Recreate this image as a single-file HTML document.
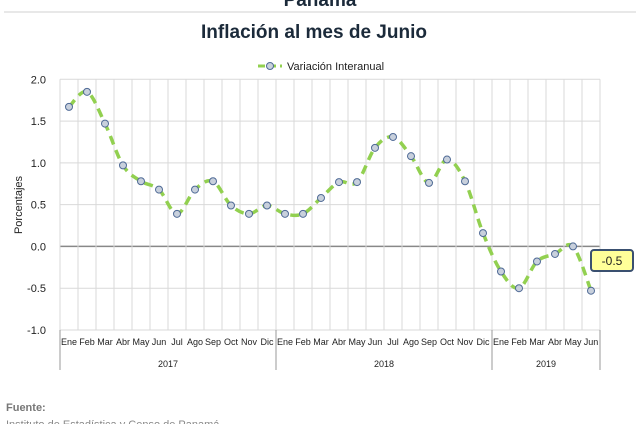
<!DOCTYPE html>
<html><head><meta charset="utf-8"><style>
body{margin:0;background:#fff;width:640px;height:424px;overflow:hidden;font-family:"Liberation Sans",sans-serif}
svg{display:block}
</style></head><body>
<svg width="640" height="424">
<text x="320" y="6" text-anchor="middle" font-size="19" font-weight="bold" fill="#1b2a3a">Panamá</text>
<line x1="4" y1="12" x2="636" y2="12" stroke="#d0d0d0"/>
<text x="314" y="38" text-anchor="middle" font-size="19" font-weight="bold" fill="#1b2a3a">Inflación al mes de Junio</text>
<g>
<line x1="258" y1="66" x2="282" y2="66" stroke="#92d050" stroke-width="3" stroke-dasharray="7,4"/>
<circle cx="270" cy="66" r="3.5" fill="#c8d0dc" stroke="#4f6a96" stroke-width="1"/>
<text x="287" y="70" font-size="11" fill="#222">Variación Interanual</text>
</g>
<g id="grid"></g><g id="axes"></g><g id="series"></g>
<text transform="translate(22,205) rotate(-90)" text-anchor="middle" font-size="11" fill="#222">Porcentajes</text>
<g>
<rect x="591" y="250" width="42" height="21" rx="3" fill="#ffff99" stroke="#3a5070" stroke-width="2"/>
<text x="612" y="265" text-anchor="middle" font-size="12" fill="#222">-0.5</text>
</g>
<text x="6" y="411" font-size="11" font-weight="bold" fill="#777">Fuente:</text>
<text x="6" y="428" font-size="11" fill="#888">Instituto de Estadística y Censo de Panamá</text>
</svg>
<script>
const months=["Ene","Feb","Mar","Abr","May","Jun","Jul","Ago","Sep","Oct","Nov","Dic","Ene","Feb","Mar","Abr","May","Jun","Jul","Ago","Sep","Oct","Nov","Dic","Ene","Feb","Mar","Abr","May","Jun"];
const years=["2017","2018","2019"];
const yearCounts=[12,12,6];
const values=[1.67,1.85,1.47,0.97,0.78,0.68,0.39,0.68,0.78,0.49,0.39,0.49,0.39,0.39,0.58,0.77,0.77,1.18,1.31,1.08,0.76,1.04,0.78,0.16,-0.30,-0.50,-0.18,-0.09,0.00,-0.53];
const yTicks=[2.0,1.5,1.0,0.5,0.0,-0.5,-1.0];
const NS="http://www.w3.org/2000/svg";
const L=60,R=600,T=79.3,B=330,ymin=-1,ymax=2;
const bw=(R-L)/months.length;
const xs=i=>L+bw*(i+0.5);
const ys=v=>B-(v-ymin)/(ymax-ymin)*(B-T);
function mk(p,tag,a){const e=document.createElementNS(NS,tag);for(const k in a)e.setAttribute(k,a[k]);p.appendChild(e);return e;}
const grid=document.getElementById('grid'),axes=document.getElementById('axes'),ser=document.getElementById('series');
yTicks.forEach(t=>{
 const l=mk(grid,'line',{x1:L,x2:R,y1:ys(t),y2:ys(t),stroke:t===0?'#888':'#d9d9d9','stroke-width':t===0?1.5:1});
 
 
 const tx=mk(axes,'text',{x:L-14,y:ys(t)+4,'text-anchor':'end','font-size':11,fill:'#222'});
 tx.textContent=t.toFixed(1);
 
 
});
for(let i=0;i<=months.length;i++){
 const l=mk(grid,'line',{x1:L+bw*i,x2:L+bw*i,y1:T,y2:B,stroke:'#d9d9d9'});
 
 
}
months.forEach((m,i)=>{
 const tx=mk(axes,'text',{x:xs(i),y:B+15,'text-anchor':'middle','font-size':9,fill:'#222'});
 tx.textContent=m;
 
 
});
let acc=0;
mk(axes,'line',{x1:L,x2:L,y1:B,y2:B+40,stroke:'#999'});
years.forEach((y,k)=>{
 const x0=L+bw*acc;acc+=yearCounts[k];const x1=L+bw*acc;
 const l=mk(axes,'line',{x1:x1,x2:x1,y1:B,y2:B+40,stroke:'#999'});
 
 
 const tx=mk(axes,'text',{x:(x0+x1)/2,y:B+37,'text-anchor':'middle','font-size':9,fill:'#222'});
 tx.textContent=y;
 
 
});
const P=values.map((v,i)=>[xs(i),ys(v)]);
let d='M'+P[0][0]+','+P[0][1];
for(let i=0;i<P.length-1;i++){
 const p0=P[i-1]||P[i],p1=P[i],p2=P[i+1],p3=P[i+2]||p2;
 const c1=[p1[0]+(p2[0]-p0[0])/6,p1[1]+(p2[1]-p0[1])/6],c2=[p2[0]-(p3[0]-p1[0])/6,p2[1]-(p3[1]-p1[1])/6];
 d+=' C'+c1+' '+c2+' '+p2;
}
const line=mk(ser,'path',{d:d,fill:'none',stroke:'#92d050','stroke-width':3.5,'stroke-dasharray':'9,6'});


P.forEach(p=>{
 const c=mk(ser,'circle',{cx:p[0],cy:p[1],r:3.5,fill:'#c8d0dc',stroke:'#4f6a96','stroke-width':1});
 
 
});
</script>
</body></html>
